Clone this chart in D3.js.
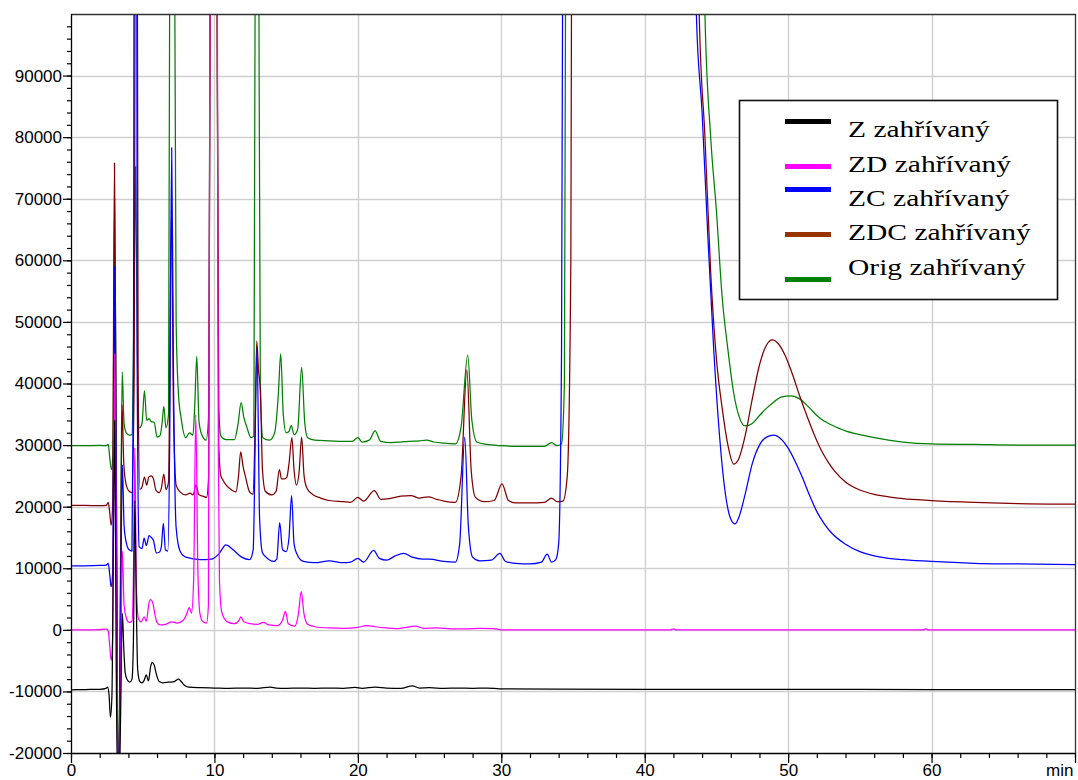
<!DOCTYPE html>
<html>
<head>
<meta charset="utf-8">
<script src="https://cdn.jsdelivr.net/npm/d3@7"></script>
<style>
  html, body { margin: 0; padding: 0; background: #fff; }
  svg { display: block; }
  .legend-label { font-family: "Liberation Serif", "Times New Roman", "DejaVu Serif", serif; font-size: 24px; }
  .tick text { font-family: "Liberation Sans", Arial, Helvetica, sans-serif; font-size: 17px; }
</style>
</head>
<body>
<svg id="chart" width="1078" height="780"></svg>
<script>
// Chromatogram traces: [retention time (min), detector response]
const traceZ = [[0,-9750],[1,-9700],[2,-9650],[2.45,-9500],[2.55,-9300],[2.65,-10500],[2.75,-14200],[2.85,-11000],[3.05,34000],[3.15,-5000],[3.3,-30000],[3.45,-15000],[3.58,2700],[3.68,-3000],[3.78,-7000],[3.92,-8100],[4.1,-8500],[4.25,-8000],[4.35,-2000],[4.45,21000],[4.55,5000],[4.65,-6500],[4.8,-8400],[4.95,-8600],[5.1,-8200],[5.25,-7300],[5.4,-8300],[5.55,-6000],[5.65,-5300],[5.8,-5700],[5.95,-7200],[6.15,-8400],[6.4,-8600],[6.8,-8500],[7.2,-8400],[7.5,-8000],[7.65,-8300],[7.9,-9000],[8.2,-9300],[9,-9400],[10,-9450],[11,-9500],[12,-9450],[13,-9500],[13.9,-9300],[14.3,-9450],[15,-9500],[16,-9450],[17,-9500],[18,-9450],[19,-9500],[19.8,-9350],[20.3,-9500],[21.2,-9300],[22,-9450],[23,-9500],[23.8,-9100],[24.3,-9450],[25,-9400],[26,-9500],[27,-9450],[28,-9500],[29,-9450],[29.5,-9500],[30,-9600],[40,-9650],[50,-9650],[60,-9700],[70,-9700]];

const traceZD = [[0,0],[1,0],[2,50],[2.5,100],[2.6,-300],[2.7,-2500],[2.8,-5000],[2.9,-1500],[3.05,44800],[3.15,10000],[3.3,-30000],[3.45,-10000],[3.58,12800],[3.7,4000],[3.85,2000],[4.05,1200],[4.25,1400],[4.35,8000],[4.45,29600],[4.55,8000],[4.7,1800],[4.9,1300],[5.1,2100],[5.25,1400],[5.45,4500],[5.55,4900],[5.7,4400],[5.85,2500],[6.0,1200],[6.2,800],[6.6,900],[7.0,1300],[7.4,1100],[7.8,1500],[8.05,2500],[8.25,3600],[8.4,2700],[8.55,8000],[8.7,34900],[8.85,9000],[9.0,2500],[9.2,1300],[9.45,1100],[9.58,4000],[9.7,120000],[9.95,300000],[10.2,110000],[10.27,30000],[10.35,8000],[10.5,3000],[10.7,1800],[10.9,1300],[11.4,1000],[11.7,1500],[11.85,2100],[12.05,1300],[12.5,1000],[13,900],[13.4,1200],[13.8,800],[14.4,700],[14.75,1600],[14.95,3000],[15.15,1000],[15.6,600],[15.85,2500],[16.05,6200],[16.25,2500],[16.5,900],[17,500],[18,300],[19,250],[20,400],[20.6,700],[21.2,500],[22,300],[22.7,200],[23.2,350],[24,600],[24.6,250],[25.5,300],[26.5,150],[27.5,150],[28.5,250],[29.5,200],[30,0],[41.8,0],[42,150],[42.2,0],[59.4,0],[59.6,150],[59.8,0],[70,0]];

const traceZC = [[0,10400],[1,10400],[2,10450],[2.45,10500],[2.6,10800],[2.7,9000],[2.8,7000],[2.9,9000],[3.05,59000],[3.15,20000],[3.3,-30000],[3.45,0],[3.58,26800],[3.7,17000],[3.85,14200],[4.05,13000],[4.25,12800],[4.35,40000],[4.5,300000],[4.62,40000],[4.75,13500],[4.95,13200],[5.1,14900],[5.25,13700],[5.45,15300],[5.6,15000],[5.75,14500],[5.95,12500],[6.15,12600],[6.3,13500],[6.44,17300],[6.58,13000],[6.75,12800],[6.88,30000],[7.02,78300],[7.15,40000],[7.33,16600],[7.6,12800],[8.0,11800],[9.0,11400],[9.8,11500],[10.3,12300],[10.8,13800],[11.3,13000],[11.9,11800],[12.45,11400],[12.7,13000],[12.97,45700],[13.15,18000],[13.35,12500],[13.6,11800],[14.1,11100],[14.35,11500],[14.55,17400],[14.75,13000],[15.0,12700],[15.2,15000],[15.38,21800],[15.55,14000],[15.75,12300],[16.2,11100],[17,10900],[18,11200],[19,10900],[19.5,11000],[20,11600],[20.4,11000],[21.1,12900],[21.5,11600],[22,11300],[22.6,12000],[23.2,12400],[23.8,11800],[24.5,11500],[25,11500],[26,11100],[26.8,11000],[27.1,14000],[27.45,31300],[27.7,17000],[28,11800],[28.5,11200],[29.3,11300],[29.9,12400],[30.3,11100],[31,10800],[32,10700],[32.8,11000],[33.2,12300],[33.5,11000],[33.8,11400],[34.0,14000],[34.2,45000],[34.4,200000],[39,800000],[43.3,180000],[43.6,100000],[44.0,84000],[44.4,64000],[44.8,46000],[45.2,32000],[45.6,22500],[46.0,18000],[46.3,17200],[46.6,18500],[47.0,22000],[47.5,27000],[48.0,30000],[48.5,31300],[49.0,31600],[49.5,31000],[50.0,29500],[50.5,27300],[51.0,24700],[51.5,21800],[52.0,19200],[52.5,17300],[53.0,15800],[54,13900],[55,12700],[56,12000],[57,11600],[58,11400],[60,11100],[63,10800],[66,10700],[70,10600]];

const traceZDC = [[0,20200],[1,20200],[2,20150],[2.45,20200],[2.6,20700],[2.7,19000],[2.8,17000],[2.9,20000],[3.03,75800],[3.15,30000],[3.3,-30000],[3.45,5000],[3.56,36500],[3.68,27000],[3.85,23500],[4.05,22500],[4.25,22300],[4.4,40000],[4.55,200000],[4.68,40000],[4.8,22800],[4.95,23200],[5.12,24800],[5.28,23500],[5.42,24800],[5.6,25000],[5.75,24500],[5.92,22700],[6.15,22300],[6.3,23000],[6.47,25300],[6.62,22800],[6.8,24000],[7.0,68000],[7.15,35000],[7.33,23500],[7.6,22400],[8.0,21900],[8.3,22200],[8.5,21900],[8.72,23500],[8.9,22000],[9.2,21700],[9.45,21500],[9.6,25000],[9.75,150000],[9.95,250000],[10.15,130000],[10.3,30000],[10.45,25000],[10.6,24300],[10.85,23400],[11.2,22700],[11.5,22400],[11.68,25000],[11.83,28900],[12.0,26500],[12.15,25000],[12.45,22400],[12.7,22000],[12.85,35000],[12.95,46900],[13.08,42000],[13.2,39000],[13.35,26000],[13.55,22500],[14.0,21900],[14.3,22500],[14.53,26000],[14.68,24500],[14.88,24500],[15.05,24800],[15.2,27000],[15.4,31200],[15.55,26000],[15.72,23500],[15.9,25500],[16.08,31300],[16.25,25000],[16.45,23000],[16.9,21900],[17.4,21400],[18,21000],[19,20800],[19.5,20700],[20,21500],[20.4,20900],[21.15,22600],[21.6,21200],[22.2,21300],[23,21700],[23.7,21800],[24.3,21400],[24.9,21600],[25.5,21200],[26,20900],[26.8,20700],[27.2,25000],[27.6,42200],[27.9,26000],[28.2,21500],[28.8,20800],[29.5,21000],[30.05,23700],[30.5,21000],[31,20600],[32,20600],[33,20700],[33.5,21400],[33.9,20800],[34.3,20900],[34.6,25000],[34.85,60000],[35.0,200000],[39.5,800000],[43.5,180000],[43.8,100000],[44.2,80000],[44.6,58000],[45.0,44000],[45.4,36000],[45.8,30000],[46.2,26900],[46.5,27500],[47.0,31500],[47.5,37500],[48.0,43000],[48.5,46300],[48.9,47100],[49.3,46500],[49.8,44500],[50.3,41500],[50.8,38000],[51.3,34800],[51.8,31800],[52.3,29200],[52.8,27200],[53.3,25600],[54,24000],[55,22700],[56,22000],[57,21600],[58,21300],[60,21000],[63,20700],[66,20500],[70,20400]];

const traceOrig = [[0,29900],[1,29900],[2,29950],[2.45,29900],[2.6,30100],[2.7,28000],[2.82,26000],[2.92,28500],[3.04,70000],[3.15,30000],[3.3,-30000],[3.45,10000],[3.57,41900],[3.7,33500],[3.85,32000],[4.05,31600],[4.25,31700],[4.38,50000],[4.5,75200],[4.62,45000],[4.77,32800],[4.95,33500],[5.12,38800],[5.28,34000],[5.45,34300],[5.6,33800],[5.8,33700],[6.0,31300],[6.2,31500],[6.35,33500],[6.47,36300],[6.62,32800],[6.8,35000],[6.92,150000],[7.05,300000],[7.17,140000],[7.33,49900],[7.5,38000],[7.67,34500],[8.0,31200],[8.26,32000],[8.5,31600],[8.62,36000],[8.77,44400],[8.92,34000],[9.1,31800],[9.42,30800],[9.6,35000],[9.75,150000],[9.95,250000],[10.15,130000],[10.3,36000],[10.45,31500],[10.8,30900],[11.4,30900],[11.65,33500],[11.86,36900],[12.05,34500],[12.25,33000],[12.55,31200],[12.75,31500],[12.88,150000],[12.97,200000],[13.08,120000],[13.2,40000],[13.37,31200],[13.84,30800],[14.2,32000],[14.45,38000],[14.62,44800],[14.8,35000],[15.0,32000],[15.2,32200],[15.35,33200],[15.55,31700],[15.8,32500],[16.08,42600],[16.3,33500],[16.5,31200],[17,30800],[18,30700],[19,30600],[19.6,30600],[20.0,31200],[20.3,30500],[20.8,30800],[21.2,32300],[21.6,30600],[22.3,30400],[23,30500],[23.5,30600],[24.3,30700],[24.8,30800],[25.3,30500],[26,30300],[26.8,30200],[27.2,33000],[27.66,44600],[27.95,34000],[28.3,30500],[29,30100],[30,29900],[31,29800],[32,29800],[33,29800],[33.5,30400],[33.9,29900],[34.2,30200],[34.4,40000],[34.6,200000],[39.5,800000],[43.9,180000],[44.2,100000],[44.6,80000],[45.0,68000],[45.4,54000],[45.8,45500],[46.2,38500],[46.6,34500],[47.0,33100],[47.5,33500],[48.0,34800],[48.5,36000],[49.0,37000],[49.5,37800],[50.2,38000],[50.8,37500],[51.5,36000],[52.0,34800],[52.5,33900],[53,33300],[54,32300],[55,31700],[56,31200],[57,30800],[58,30500],[60,30200],[63,30100],[66,30000],[70,30000]];

const seriesNames = ["Z zahřívaný", "ZD zahřívaný", "ZC zahřívaný", "ZDC zahřívaný", "Orig zahřívaný"];
const seriesData = [traceZ, traceZD, traceZC, traceZDC, traceOrig];
const traceColors = ["#000000", "#ff00ff", "#0000ff", "#800000", "#008000"];
const legendColors = ["#000000", "#ff00ff", "#0000ff", "#993300", "#007f00"];

const yMajorTicks = d3.range(-20000, 90001, 10000);
const yMinorTicks = d3.range(-20000, 99001, 2000);
const xMajorTicks = d3.range(0, 71, 10);
const xMinorTicks = d3.range(0, 71, 2);
const xUnitLabel = "min";

const svg = d3.select("#chart");
const W = 1078, H = 780;
const plot = { left: 71, right: 1075, top: 14, bottom: 753 };

const x = d3.scaleLinear().domain([0, 70]).range([plot.left, plot.right]);
const y = d3.scaleLinear().domain([-20000, 100000]).range([plot.bottom, plot.top]);

svg.append("rect").attr("width", W).attr("height", H).attr("fill", "#fff");

// grid
const grid = svg.append("g").attr("stroke", "#cfcfcf").attr("stroke-width", 1.4);
grid.selectAll("line.h").data(yMajorTicks.filter(d => d > -20000)).join("line")
  .attr("x1", plot.left).attr("x2", plot.right)
  .attr("y1", d => Math.round(y(d)) + 0.5).attr("y2", d => Math.round(y(d)) + 0.5);
grid.selectAll("line.v").data(xMajorTicks.filter(d => d > 0 && d < 70)).join("line")
  .attr("y1", plot.top).attr("y2", plot.bottom)
  .attr("x1", d => Math.round(x(d)) + 0.5).attr("x2", d => Math.round(x(d)) + 0.5);

// traces, clipped to the plotting area
svg.append("defs").append("clipPath").attr("id", "plotClip")
  .append("rect").attr("x", plot.left).attr("y", plot.top)
  .attr("width", plot.right - plot.left).attr("height", plot.bottom - plot.top);

const line = d3.line()
  .x(d => x(d[0]))
  .y(d => y(d[1]))
  .curve(d3.curveMonotoneX);

const traces = svg.append("g").attr("clip-path", "url(#plotClip)");
const drawOrder = [4, 3, 2, 1, 0];
drawOrder.forEach(i => {
  traces.append("path")
    .datum(seriesData[i])
    .attr("fill", "none")
    .attr("stroke", traceColors[i])
    .attr("stroke-width", 1.25)
    .attr("stroke-linejoin", "round")
    .attr("d", line);
});

// frame (top and right)
svg.append("path")
  .attr("d", `M${plot.left},${plot.top + 0.5}H${plot.right + 0.5}V${plot.bottom}`)
  .attr("fill", "none").attr("stroke", "#333").attr("stroke-width", 1.3);

// y axis
const yAxisG = svg.append("g").attr("transform", `translate(${plot.left},0)`);
yAxisG.call(d3.axisLeft(y).tickValues(yMinorTicks).tickSize(4).tickSizeOuter(0).tickFormat(""));
const yMajorG = svg.append("g").attr("transform", `translate(${plot.left},0)`);
yMajorG.call(d3.axisLeft(y).tickValues(yMajorTicks).tickSize(8).tickSizeOuter(0).tickPadding(1)
  .tickFormat(d => String(d)));
yMajorG.select(".domain").remove();
yAxisG.select(".domain").attr("d", `M0.5,${plot.top}V${plot.bottom}`).attr("stroke-width", 1.3);

// x axis
const xAxisG = svg.append("g").attr("transform", `translate(0,${plot.bottom})`);
xAxisG.call(d3.axisBottom(x).tickValues(xMinorTicks).tickSize(5).tickSizeOuter(0).tickFormat(""));
xAxisG.select(".domain").attr("d", `M${plot.left},0.5H${plot.right}`).attr("stroke-width", 1.3);
const xMajorG = svg.append("g").attr("transform", `translate(0,${plot.bottom})`);
xMajorG.call(d3.axisBottom(x).tickValues(xMajorTicks).tickSize(10).tickSizeOuter(0)
  .tickFormat(d => d === 70 ? xUnitLabel : String(d)));
xMajorG.select(".domain").remove();
xMajorG.selectAll(".tick text").attr("y", 23).attr("dy", 0);
xMajorG.selectAll(".tick").filter(d => d === 70).select("text")
  .attr("text-anchor", "end").attr("x", -2);

svg.selectAll(".tick text")
  .attr("font-family", null)
  .attr("font-size", null)
  .attr("fill", "#000");
svg.selectAll(".tick line").attr("stroke", "#000").attr("stroke-width", 1.2);

// legend
const legend = svg.append("g");
legend.append("rect")
  .attr("x", 739.5).attr("y", 100.5).attr("width", 318).attr("height", 199)
  .attr("fill", "#fff").attr("stroke", "#111").attr("stroke-width", 1.6);
const legendLineY = [121.5, 166.5, 189.5, 234.5, 279.5];
const legendTextY = [137, 172, 205.5, 240, 275];
seriesNames.forEach((name, i) => {
  legend.append("line")
    .attr("x1", 785).attr("x2", 831)
    .attr("y1", legendLineY[i]).attr("y2", legendLineY[i])
    .attr("stroke", legendColors[i]).attr("stroke-width", 5);
  legend.append("text")
    .attr("class", "legend-label")
    .attr("transform", `translate(848,${legendTextY[i]}) scale(1.23,1)`)
    .attr("fill", "#000")
    .text(name);
});
</script>
</body>
</html>
